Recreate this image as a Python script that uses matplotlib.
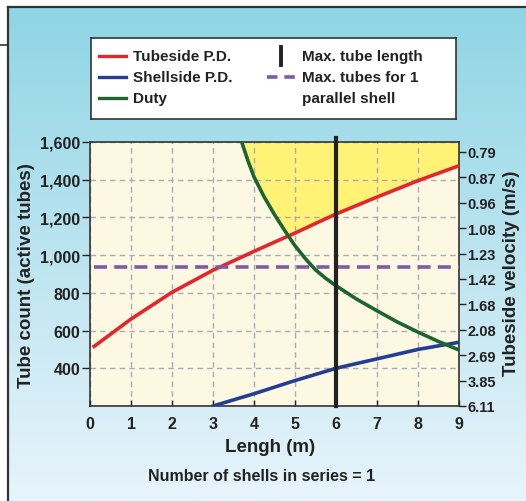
import matplotlib
matplotlib.use('Agg')
import matplotlib.pyplot as plt
from matplotlib.lines import Line2D
import numpy as np

plt.rcParams['font.family'] = ['Liberation Sans', 'DejaVu Sans']
plt.rcParams['font.weight'] = 'bold'

W, H = 526, 502

# data
lengthRed = [0.1, 1, 2, 3, 3.7, 4, 4.5, 5, 5.5, 6, 7, 8, 9]
tubeside = [516, 661, 803, 920, 990, 1020, 1069, 1117, 1168, 1218, 1308, 1395, 1474]

lengthDuty = [3.7, 3.85, 4, 4.25, 4.5, 4.75, 5, 5.25, 5.5, 5.75, 6, 6.5, 7, 7.5, 8, 8.5, 9]
duty = [1600, 1502, 1415, 1308, 1215, 1130, 1050, 982, 922, 877, 838, 767, 705, 645, 592, 542, 497]

lengthShell = [3, 4, 5, 6, 7, 8, 9]
shellside = [200, 265, 335, 400, 450, 500, 538]

maxTubeLength = 6
maxTubes = 935

leftTicks = [400, 600, 800, 1000, 1200, 1400, 1600]
leftLabels = ['400', '600', '800', '1,000', '1,200', '1,400', '1,600']
velocityLabels = ['0.79', '0.87', '0.96', '1.08', '1.23', '1.42', '1.68', '2.08', '2.69', '3.85', '6.11']
xTicks = [0, 1, 2, 3, 4, 5, 6, 7, 8, 9]

red = '#e3262d'
blue = '#263d96'
green = '#1c6530'
purple = '#7f5ba6'
yellow = '#fff275'
cream = '#fdf8e2'
dark = '#222222'


def px(x0, y0, x1, y1):
    return [x0 / W, 1 - y1 / H, (x1 - x0) / W, (y1 - y0) / H]


fig = plt.figure(figsize=(W / 100, H / 100), dpi=100)
fig.patch.set_facecolor('white')

# blue gradient panel
bg = fig.add_axes(px(8, 8, W, H))
top = np.array([0x8f, 0xd5, 0xe5]) / 255
bot = np.array([0xe8, 0xf4, 0xfb]) / 255
t = np.linspace(0, 1, 256)[:, None]
grad = (top[None, :] * (1 - t) + bot[None, :] * t)[:, None, :]
bg.imshow(grad, aspect='auto', extent=[0, 1, 0, 1])
bg.axis('off')

fig.add_artist(Line2D([8 / W, 1], [1 - 8 / H, 1 - 8 / H], color='#333333', lw=1.6))
fig.add_artist(Line2D([8 / W, 8 / W], [0, 1 - 8 / H], color='#333333', lw=1.6))
fig.add_artist(Line2D([0, 8 / W], [1 - 46 / H, 1 - 46 / H], color='#333333', lw=1.2))

# main plot
ax = fig.add_axes(px(90, 143, 459, 407))
ax.set_facecolor(cream)
ax.set_xlim(0, 9)
ax.set_ylim(200, 1600)

# yellow zone: above duty curve and above tubeside curve
ax.fill_between(lengthDuty, duty, 1600, color=yellow, lw=0, zorder=1)
ax.fill_between(lengthRed, 200, tubeside, color=cream, lw=0, zorder=1.1)

ax.grid(True, color='#a9abbb', linestyle=(0, (4, 3)), linewidth=1)

ax.plot(lengthRed, tubeside, color=red, lw=2.6, zorder=3)
ax.plot(lengthShell, shellside, color=blue, lw=2.6, zorder=3)
ax.plot(lengthDuty, duty, color=green, lw=2.6, zorder=3)
ax.plot([lengthRed[0], 9], [maxTubes, maxTubes], color=purple, lw=2.6,
        linestyle=(0, (3.6, 2.0)), zorder=3)
ax.plot([maxTubeLength, maxTubeLength], [200, 1620], color='#222222', lw=3,
        zorder=4, clip_on=False)

ax.set_xticks(xTicks)
ax.set_yticks(leftTicks)
ax.set_yticklabels(leftLabels)
ax.tick_params(axis='x', direction='in', length=4, width=1, pad=7,
               labelsize=11.5, colors=dark)
ax.tick_params(axis='y', direction='out', length=6, width=1, pad=1,
               labelsize=11.5, colors=dark)
for s in ax.spines.values():
    s.set_color('#333333')
    s.set_linewidth(1.2)

ax2 = ax.twinx()
ax2.set_ylim(200, 1600)
ax2.set_yticks(np.linspace(1547, 200, len(velocityLabels)))
ax2.set_yticklabels(velocityLabels)
ax2.tick_params(axis='y', direction='out', length=5, width=1, pad=1,
                labelsize=10.5, colors=dark)
for s in ax2.spines.values():
    s.set_visible(False)

fig.text(270 / W, 1 - 448 / H, 'Lengh (m)', ha='center', va='center',
         fontsize=13.5, color=dark)
fig.text(262 / W, 1 - 477 / H, 'Number of shells in series = 1', ha='center',
         va='center', fontsize=11.5, color=dark)
fig.text(27 / W, 1 - 276 / H, 'Tube count (active tubes)', ha='center',
         va='center', rotation=90, fontsize=13.5, color=dark)
fig.text(511 / W, 1 - 273 / H, 'Tubeside velocity (m/s)', ha='center',
         va='center', rotation=90, fontsize=13.5, color=dark)

# legend box
lg = fig.add_axes(px(91, 39, 456, 120))
lg.set_xlim(0, 365)
lg.set_ylim(81, 0)
lg.set_facecolor('white')
lg.set_xticks([])
lg.set_yticks([])
for s in lg.spines.values():
    s.set_color('#333333')
    s.set_linewidth(1.2)

rows = [18, 39, 60]
lg.plot([8, 35], [rows[0], rows[0]], color=red, lw=2.4)
lg.plot([8, 35], [rows[1], rows[1]], color=blue, lw=2.4)
lg.plot([8, 35], [rows[2], rows[2]], color=green, lw=2.4)
lg.plot([190, 190], [9, 27], color='#222222', lw=2.8)
lg.plot([176, 204], [rows[1], rows[1]], color=purple, lw=2.6,
        linestyle=(0, (2.9, 1.9)))
for y, txt in zip(rows, ['Tubeside P.D.', 'Shellside P.D.', 'Duty']):
    lg.text(42, y, txt, va='center', ha='left', fontsize=11, color=dark)
for y, txt in zip(rows, ['Max. tube length', 'Max. tubes for 1', 'parallel shell']):
    lg.text(211, y, txt, va='center', ha='left', fontsize=11, color=dark)

fig.savefig('out.png', dpi=100)
